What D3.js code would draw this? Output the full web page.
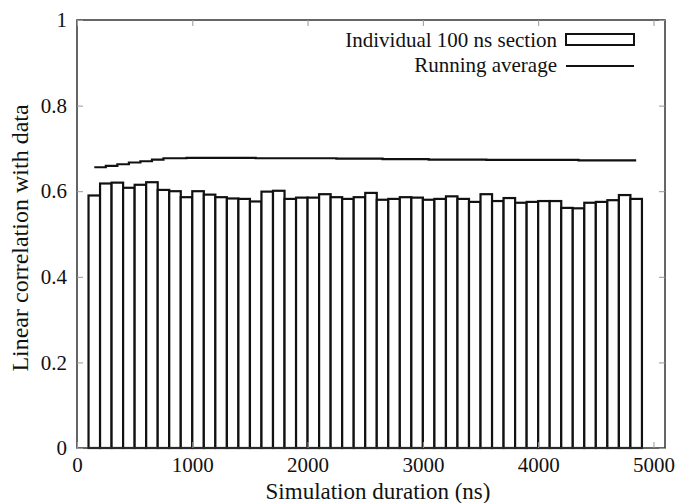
<!DOCTYPE html>
<html><head><meta charset="utf-8">
<script src="https://cdn.jsdelivr.net/npm/d3@7/dist/d3.min.js"></script>
<style>body{margin:0;background:#fff}svg{display:block}</style>
</head><body><svg id="c" width="682" height="503"></svg>
<script>
// Section start times (ns), each section 100 ns wide
const sectionStarts = d3.range(100, 4900, 100);
const sectionValues = [0.590,0.618,0.620,0.608,0.615,0.621,0.603,0.600,0.586,0.600,
0.592,0.586,0.583,0.582,0.576,0.599,0.601,0.582,0.585,0.585,
0.593,0.586,0.582,0.586,0.596,0.580,0.582,0.586,0.585,0.580,
0.582,0.588,0.582,0.575,0.593,0.577,0.584,0.573,0.575,0.577,
0.577,0.561,0.560,0.573,0.575,0.579,0.591,0.582];
const avgTimes = d3.range(150, 4900, 100);
const avgValues = [0.656,0.659,0.663,0.667,0.670,0.674,0.677,0.677,0.678,0.678,
0.678,0.678,0.678,0.678,0.677,0.677,0.677,0.677,0.677,0.677,
0.677,0.676,0.676,0.676,0.676,0.675,0.675,0.675,0.675,0.674,
0.674,0.674,0.674,0.674,0.673,0.673,0.673,0.673,0.673,0.673,
0.673,0.673,0.672,0.672,0.672,0.672,0.672,0.672];
const xTicks = [0,1000,2000,3000,4000,5000];
const yTicks = [0,0.2,0.4,0.6,0.8,1];
const legendLabels = ["Individual 100 ns section","Running average"];
const xTitle = "Simulation duration (ns)";
const yTitle = "Linear correlation with data";

const FONT='"Liberation Serif"';
const L=77,R=665,T=20,B=448;
const svg=d3.select("#c");
const x=d3.scaleLinear().domain([0,5100]).range([L,R]);
const y=d3.scaleLinear().domain([0,1]).range([B,T]);

// bars
svg.append("g").selectAll("rect").data(sectionStarts).join("rect")
 .attr("x",d=>x(d)).attr("width",d=>x(d+100)-x(d))
 .attr("y",(d,i)=>y(sectionValues[i])).attr("height",(d,i)=>y(0)-y(sectionValues[i]))
 .attr("fill","#fff").attr("stroke","#111").attr("stroke-width",2.2);

// running average
svg.append("path").datum(avgTimes.map((t,i)=>[t,avgValues[i]]))
 .attr("d",d3.line().x(d=>x(d[0])).y(d=>y(d[1])).curve(d3.curveStepAfter))
 .attr("fill","none").attr("stroke","#111").attr("stroke-width",2.2);

// frame
svg.append("rect").attr("x",L).attr("y",T).attr("width",R-L).attr("height",B-T)
 .attr("fill","none").attr("stroke","#333").attr("stroke-width",1.5);

// axes with inward ticks
const tl=6;
const gx=svg.append("g").attr("transform",`translate(0,${B})`)
 .call(d3.axisBottom(x).tickValues(xTicks).tickSize(-tl).tickPadding(9).tickFormat(d3.format("d")));
const gx2=svg.append("g").attr("transform",`translate(0,${T})`)
 .call(d3.axisTop(x).tickValues(xTicks).tickSize(-tl).tickFormat(""));
const gy=svg.append("g").attr("transform",`translate(${L},0)`)
 .call(d3.axisLeft(y).tickValues(yTicks).tickSize(-tl).tickPadding(10).tickFormat(d=>d===0||d===1?d3.format("d")(d):d3.format(".1f")(d)));
const gy2=svg.append("g").attr("transform",`translate(${R},0)`)
 .call(d3.axisRight(y).tickValues(yTicks).tickSize(-tl).tickFormat(""));
[gx,gx2,gy,gy2].forEach(g=>{g.select(".domain").remove();
 g.selectAll(".tick line").attr("stroke","#999").attr("stroke-width",1);
 g.selectAll("text").style("font-family",FONT).style("font-size","21px").attr("fill","#111");});

// titles
svg.append("text").style("font-family",FONT).style("font-size","23px").attr("x",378).attr("y",499).attr("text-anchor","middle").attr("fill","#111").text(xTitle);
svg.append("text").style("font-family",FONT).style("font-size","24px").attr("transform",`translate(28,238) rotate(-90)`).attr("text-anchor","middle").attr("fill","#111").text(yTitle);

// legend
svg.append("text").style("font-family",FONT).style("font-size","21px").attr("x",557).attr("y",47).attr("text-anchor","end").attr("fill","#111").text(legendLabels[0]);
svg.append("rect").attr("x",566).attr("y",34).attr("width",68).attr("height",11).attr("fill","#fff").attr("stroke","#111").attr("stroke-width",2);
svg.append("text").style("font-family",FONT).style("font-size","21px").attr("x",557).attr("y",72).attr("text-anchor","end").attr("fill","#111").text(legendLabels[1]);
svg.append("line").attr("x1",566).attr("x2",634).attr("y1",66).attr("y2",66).attr("stroke","#111").attr("stroke-width",2);
</script></body></html>
